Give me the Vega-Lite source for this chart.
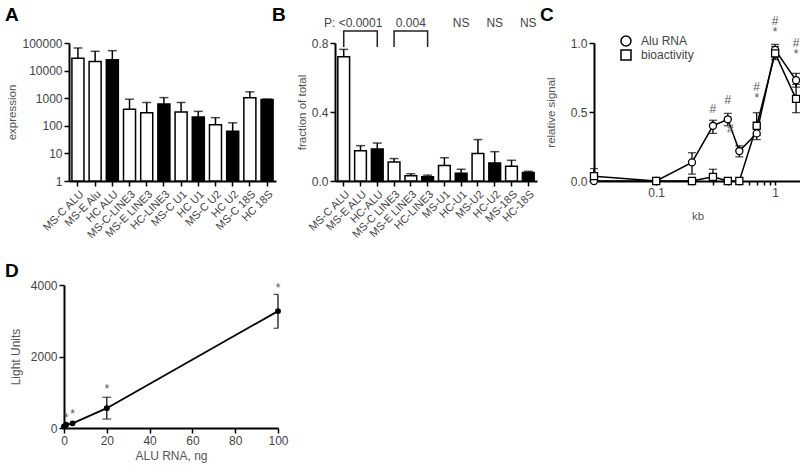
{
  "$schema": "https://vega.github.io/schema/vega-lite/v6.json",
  "padding": {"left": 5, "top": 5, "right": 0, "bottom": 5},
  "config": {
    "font": "Liberation Sans",
    "view": {"stroke": null},
    "axis": {
      "domainColor": "black", "domainWidth": 2, "tickColor": "black", "tickWidth": 1.5, "tickSize": 5,
      "labelFont": "Liberation Sans", "labelFontSize": 12, "labelColor": "#444", "labelPadding": 2, "labelFlush": false,
      "titleFont": "Liberation Sans", "titleFontSize": 11.5, "titleFontWeight": "normal", "titleColor": "#555", "grid": false
    },
    "title": {"anchor": "start", "frame": "group", "fontSize": 19, "fontWeight": "bold", "color": "black", "baseline": "alphabetic", "offset": 12}
  },
  "resolve": {"scale": {"shape": "independent"}, "legend": {"shape": "independent"}},
  "columns": 3,
  "align": "none",
  "bounds": "flush",
  "spacing": {"row": 104, "column": 57},
  "concat": [
    {
      "width": 207, "height": 138,
      "title": {"text": "A", "dx": -64, "offset": 12},
      "data": {"values": [
        {"label": "MS-C ALU", "value": 28000, "err": 66000, "g": "open"},
        {"label": "MS-E Alu", "value": 21500, "err": 50000, "g": "open"},
        {"label": "HC ALU", "value": 24600, "err": 52700, "g": "filled"},
        {"label": "MS-C-LINE3", "value": 400, "err": 920, "g": "open"},
        {"label": "MS-E LINE3", "value": 300, "err": 700, "g": "open"},
        {"label": "HC-LINE3", "value": 610, "err": 1050, "g": "filled"},
        {"label": "MS-C U1", "value": 318, "err": 700, "g": "open"},
        {"label": "HC U1", "value": 208, "err": 333, "g": "filled"},
        {"label": "MS-C U2", "value": 110, "err": 197, "g": "open"},
        {"label": "HC U2", "value": 64, "err": 128, "g": "filled"},
        {"label": "MS-C 18S", "value": 1030, "err": 1700, "g": "open"},
        {"label": "HC 18S", "value": 890, "err": 930, "g": "filled"}
      ]},
      "layer": [
        {
          "mark": {"type": "rule", "color": "black", "strokeWidth": 1.5},
          "encoding": {
            "x": {"field": "label", "type": "nominal", "sort": null, "title": null,
                  "scale": {"paddingInner": 0.3, "paddingOuter": 0.17},
                  "axis": {"labelAngle": -45, "labelFontSize": 11}},
            "y": {"field": "value", "type": "quantitative", "title": "expression",
                  "scale": {"type": "log", "domain": [1, 100000], "nice": false},
                  "axis": {"values": [1, 10, 100, 1000, 10000, 100000], "format": "d"}},
            "y2": {"field": "err"}
          }
        },
        {
          "mark": {"type": "tick", "color": "black", "thickness": 1.5, "size": 9, "orient": "horizontal"},
          "encoding": {
            "x": {"field": "label", "type": "nominal", "sort": null, "title": null},
            "y": {"field": "err", "type": "quantitative", "title": "expression"}
          }
        },
        {
          "mark": {"type": "bar", "stroke": "black", "strokeWidth": 1.5},
          "encoding": {
            "x": {"field": "label", "type": "nominal", "sort": null, "title": null},
            "y": {"field": "value", "type": "quantitative", "title": "expression"},
            "y2": {"datum": 1},
            "fill": {"field": "g", "type": "nominal", "scale": {"domain": ["open", "filled"], "range": ["white", "black"]}, "legend": null}
          }
        }
      ]
    },
    {
      "width": 202, "height": 138,
      "title": {"text": "B", "dx": -63, "offset": -8},
      "data": {"values": [
        {"label": "MS-C ALU", "value": 0.72, "err": 0.763, "g": "open"},
        {"label": "MS-E ALU", "value": 0.175, "err": 0.205, "g": "open"},
        {"label": "HC-ALU", "value": 0.185, "err": 0.22, "g": "filled"},
        {"label": "MS-C LINE3", "value": 0.11, "err": 0.13, "g": "open"},
        {"label": "MS-E LINE3", "value": 0.03, "err": 0.042, "g": "open"},
        {"label": "HC-LINE3", "value": 0.025, "err": 0.034, "g": "filled"},
        {"label": "MS-U1", "value": 0.09, "err": 0.135, "g": "open"},
        {"label": "HC-U1", "value": 0.045, "err": 0.068, "g": "filled"},
        {"label": "MS-U2", "value": 0.16, "err": 0.24, "g": "open"},
        {"label": "HC-U2", "value": 0.105, "err": 0.17, "g": "filled"},
        {"label": "MS-18S", "value": 0.085, "err": 0.12, "g": "open"},
        {"label": "HC-18S", "value": 0.05, "err": 0.056, "g": "filled"}
      ]},
      "layer": [
        {
          "mark": {"type": "rule", "color": "black", "strokeWidth": 1.5},
          "encoding": {
            "x": {"field": "label", "type": "nominal", "title": null,
                  "scale": {"domain": ["MS-C ALU", "MS-E ALU", "HC-ALU", "MS-C LINE3", "MS-E LINE3", "HC-LINE3", "MS-U1", "HC-U1", "MS-U2", "HC-U2", "MS-18S", "HC-18S"], "paddingInner": 0.3, "paddingOuter": 0.17},
                  "axis": {"labelAngle": -45, "labelFontSize": 11}},
            "y": {"field": "value", "type": "quantitative", "title": "fraction of total",
                  "scale": {"domain": [0, 0.8], "nice": false},
                  "axis": {"values": [0, 0.2, 0.4, 0.6, 0.8], "format": ".1f"}},
            "y2": {"field": "err"}
          }
        },
        {
          "mark": {"type": "tick", "color": "black", "thickness": 1.5, "size": 9, "orient": "horizontal"},
          "encoding": {
            "x": {"field": "label", "type": "nominal", "title": null},
            "y": {"field": "err", "type": "quantitative", "title": "fraction of total"}
          }
        },
        {
          "mark": {"type": "bar", "stroke": "black", "strokeWidth": 1.5},
          "encoding": {
            "x": {"field": "label", "type": "nominal", "title": null},
            "y": {"field": "value", "type": "quantitative", "title": "fraction of total"},
            "fill": {"field": "g", "type": "nominal", "scale": {"domain": ["open", "filled"], "range": ["white", "black"]}, "legend": null}
          }
        },
        {
          "data": {"values": [
            {"b": 1, "label": "MS-C ALU", "y": 0.777, "o": 1},
            {"b": 1, "label": "MS-C ALU", "y": 0.87, "o": 2},
            {"b": 1, "label": "HC-ALU", "y": 0.87, "o": 3},
            {"b": 1, "label": "HC-ALU", "y": 0.777, "o": 4},
            {"b": 2, "label": "MS-C LINE3", "y": 0.777, "o": 1},
            {"b": 2, "label": "MS-C LINE3", "y": 0.87, "o": 2},
            {"b": 2, "label": "HC-LINE3", "y": 0.87, "o": 3},
            {"b": 2, "label": "HC-LINE3", "y": 0.777, "o": 4}
          ]},
          "mark": {"type": "line", "color": "#222", "strokeWidth": 1.5},
          "encoding": {
            "x": {"field": "label", "type": "nominal", "title": null},
            "y": {"field": "y", "type": "quantitative", "title": "fraction of total"},
            "detail": {"field": "b"},
            "order": {"field": "o"}
          }
        },
        {
          "data": {"values": [
            {"label": "MS-E ALU", "t": "<0.0001"},
            {"label": "MS-E LINE3", "t": "0.004"},
            {"label": "HC-U1", "t": "NS"},
            {"label": "HC-U2", "t": "NS"},
            {"label": "HC-18S", "t": "NS"}
          ]},
          "mark": {"type": "text", "fontSize": 12, "color": "#444", "baseline": "alphabetic"},
          "encoding": {
            "x": {"field": "label", "type": "nominal", "title": null},
            "y": {"datum": 0.893, "type": "quantitative"},
            "text": {"field": "t"}
          }
        },
        {
          "data": {"values": [{"label": "MS-C ALU", "t": "P:"}]},
          "mark": {"type": "text", "fontSize": 12, "color": "#444", "baseline": "alphabetic", "dx": -14},
          "encoding": {
            "x": {"field": "label", "type": "nominal", "title": null},
            "y": {"datum": 0.893, "type": "quantitative"},
            "text": {"field": "t"}
          }
        }
      ]
    },
    {
      "width": 207, "height": 138,
      "title": {"text": "C", "dx": -54, "offset": -9.5},
      "data": {"values": [
        {"series": "Alu RNA", "kb": 0.03, "v": 0},
        {"series": "Alu RNA", "kb": 0.1, "v": 0},
        {"series": "Alu RNA", "kb": 0.2, "v": 0.135, "lo": 0.05, "hi": 0.205},
        {"series": "Alu RNA", "kb": 0.3, "v": 0.4, "lo": 0.345, "hi": 0.44},
        {"series": "Alu RNA", "kb": 0.4, "v": 0.447, "lo": 0.4, "hi": 0.49},
        {"series": "Alu RNA", "kb": 0.5, "v": 0.217, "lo": 0.175, "hi": 0.255},
        {"series": "Alu RNA", "kb": 0.7, "v": 0.345, "lo": 0.3, "hi": 0.39},
        {"series": "Alu RNA", "kb": 1.0, "v": 0.95, "lo": 0.9, "hi": 0.99},
        {"series": "Alu RNA", "kb": 1.5, "v": 0.73, "lo": 0.68, "hi": 0.78},
        {"series": "bioactivity", "kb": 0.03, "v": 0.035, "lo": 0.0, "hi": 0.09},
        {"series": "bioactivity", "kb": 0.1, "v": 0},
        {"series": "bioactivity", "kb": 0.2, "v": 0},
        {"series": "bioactivity", "kb": 0.3, "v": 0.03, "lo": 0.0, "hi": 0.085},
        {"series": "bioactivity", "kb": 0.4, "v": 0},
        {"series": "bioactivity", "kb": 0.5, "v": 0},
        {"series": "bioactivity", "kb": 0.7, "v": 0.4, "lo": 0.33, "hi": 0.495},
        {"series": "bioactivity", "kb": 1.0, "v": 0.925, "lo": 0.88, "hi": 0.975},
        {"series": "bioactivity", "kb": 1.5, "v": 0.595, "lo": 0.495, "hi": 0.7}
      ]},
      "layer": [
        {
          "mark": {"type": "line", "color": "black", "strokeWidth": 1.5},
          "encoding": {
            "x": {"field": "kb", "type": "quantitative", "title": "kb",
                  "scale": {"type": "log", "domain": [0.03, 1.65], "nice": false},
                  "axis": {"values": [0.1, 0.2, 0.3, 0.4, 0.5, 0.6, 0.7, 0.8, 0.9, 1],
                           "labelExpr": "datum.value == 0.1 ? '0.1' : (datum.value == 1 ? '1' : '')",
                           "labelOverlap": false, "titlePadding": 12, "tickSize": 4}},
            "y": {"field": "v", "type": "quantitative", "title": "relative signal",
                  "scale": {"domain": [0, 1], "nice": false},
                  "axis": {"values": [0, 0.5, 1], "format": ".1f", "titlePadding": 14, "tickSize": 5}},
            "detail": {"field": "series"}
          }
        },
        {
          "transform": [{"filter": "datum.hi != null"}],
          "mark": {"type": "rule", "color": "black", "strokeWidth": 1.3},
          "encoding": {
            "x": {"field": "kb", "type": "quantitative", "title": "kb"},
            "y": {"field": "lo", "type": "quantitative", "title": "relative signal"},
            "y2": {"field": "hi"}
          }
        },
        {
          "transform": [{"filter": "datum.hi != null"}],
          "mark": {"type": "tick", "color": "black", "thickness": 1.3, "size": 8, "orient": "horizontal"},
          "encoding": {
            "x": {"field": "kb", "type": "quantitative", "title": "kb"},
            "y": {"field": "hi", "type": "quantitative", "title": "relative signal"}
          }
        },
        {
          "transform": [{"filter": "datum.hi != null && datum.lo > 0"}],
          "mark": {"type": "tick", "color": "black", "thickness": 1.3, "size": 8, "orient": "horizontal"},
          "encoding": {
            "x": {"field": "kb", "type": "quantitative", "title": "kb"},
            "y": {"field": "lo", "type": "quantitative", "title": "relative signal"}
          }
        },
        {
          "mark": {"type": "point", "filled": false, "fill": "white", "stroke": "black", "strokeWidth": 1.3, "size": 50, "opacity": 1},
          "encoding": {
            "x": {"field": "kb", "type": "quantitative", "title": "kb"},
            "y": {"field": "v", "type": "quantitative", "title": "relative signal"},
            "shape": {"field": "series", "type": "nominal",
                      "scale": {"domain": ["Alu RNA", "bioactivity"], "range": ["circle", "square"]},
                      "legend": {"title": null, "orient": "none", "legendX": 26, "legendY": -8,
                                 "labelFontSize": 12, "labelColor": "#444", "labelOffset": 9, "rowPadding": -2}}
          }
        },
        {
          "data": {"values": [
            {"kb": 0.3, "y": 0.52, "t": "#"},
            {"kb": 0.4, "y": 0.585, "t": "#"},
            {"kb": 0.42, "y": 0.375, "t": "#"},
            {"kb": 0.7, "y": 0.68, "t": "#"},
            {"kb": 0.7, "y": 0.6, "t": "*"},
            {"kb": 1.0, "y": 1.157, "t": "#"},
            {"kb": 1.0, "y": 1.077, "t": "*"},
            {"kb": 1.5, "y": 1.0, "t": "#"},
            {"kb": 1.5, "y": 0.92, "t": "*"}
          ]},
          "mark": {"type": "text", "fontSize": 12, "color": "#555", "baseline": "middle"},
          "encoding": {
            "x": {"field": "kb", "type": "quantitative", "title": "kb"},
            "y": {"field": "y", "type": "quantitative", "title": "relative signal"},
            "text": {"field": "t"}
          }
        }
      ]
    },
    {
      "width": 209, "height": 143,
      "title": {"text": "D", "dx": -64, "offset": -2},
      "data": {"values": [
        {"ng": 0, "lu": 40},
        {"ng": 1, "lu": 90},
        {"ng": 4, "lu": 130},
        {"ng": 20, "lu": 555, "lo": 250, "hi": 860},
        {"ng": 100, "lu": 3270, "lo": 2790, "hi": 3740}
      ]},
      "layer": [
        {
          "mark": {"type": "line", "color": "black", "strokeWidth": 1.8},
          "encoding": {
            "x": {"field": "ng", "type": "quantitative", "title": "ALU RNA, ng",
                  "scale": {"domain": [0, 100], "range": [-5, 209], "nice": false},
                  "axis": {"values": [0, 20, 40, 60, 80, 100], "titleFontSize": 12, "titlePadding": 4}},
            "y": {"field": "lu", "type": "quantitative", "title": "Light Units",
                  "scale": {"domain": [0, 4000], "nice": false},
                  "axis": {"values": [0, 1000, 2000, 3000, 4000], "format": "d", "offset": 5, "titleFontSize": 12, "titlePadding": 8}}
          }
        },
        {
          "transform": [{"filter": "datum.hi != null"}],
          "mark": {"type": "rule", "color": "black", "strokeWidth": 1.2},
          "encoding": {
            "x": {"field": "ng", "type": "quantitative", "title": "ALU RNA, ng"},
            "y": {"field": "lo", "type": "quantitative", "title": "Light Units"},
            "y2": {"field": "hi"}
          }
        },
        {
          "transform": [{"filter": "datum.hi != null"}],
          "mark": {"type": "tick", "color": "black", "thickness": 1.2, "size": 9, "orient": "horizontal", "clip": true},
          "encoding": {
            "x": {"field": "ng", "type": "quantitative", "title": "ALU RNA, ng"},
            "y": {"field": "hi", "type": "quantitative", "title": "Light Units"}
          }
        },
        {
          "transform": [{"filter": "datum.hi != null"}],
          "mark": {"type": "tick", "color": "black", "thickness": 1.2, "size": 9, "orient": "horizontal", "clip": true},
          "encoding": {
            "x": {"field": "ng", "type": "quantitative", "title": "ALU RNA, ng"},
            "y": {"field": "lo", "type": "quantitative", "title": "Light Units"}
          }
        },
        {
          "mark": {"type": "point", "filled": true, "color": "black", "size": 35, "opacity": 1},
          "encoding": {
            "x": {"field": "ng", "type": "quantitative", "title": "ALU RNA, ng"},
            "y": {"field": "lu", "type": "quantitative", "title": "Light Units"}
          }
        },
        {
          "data": {"values": [
            {"ng": 1, "y": 285, "t": "*"},
            {"ng": 4, "y": 390, "t": "*"},
            {"ng": 20, "y": 1080, "t": "*"},
            {"ng": 100, "y": 3930, "t": "*"}
          ]},
          "mark": {"type": "text", "fontSize": 12, "color": "#555", "baseline": "middle"},
          "encoding": {
            "x": {"field": "ng", "type": "quantitative", "title": "ALU RNA, ng"},
            "y": {"field": "y", "type": "quantitative", "title": "Light Units"},
            "text": {"field": "t"}
          }
        }
      ]
    }
  ]
}
